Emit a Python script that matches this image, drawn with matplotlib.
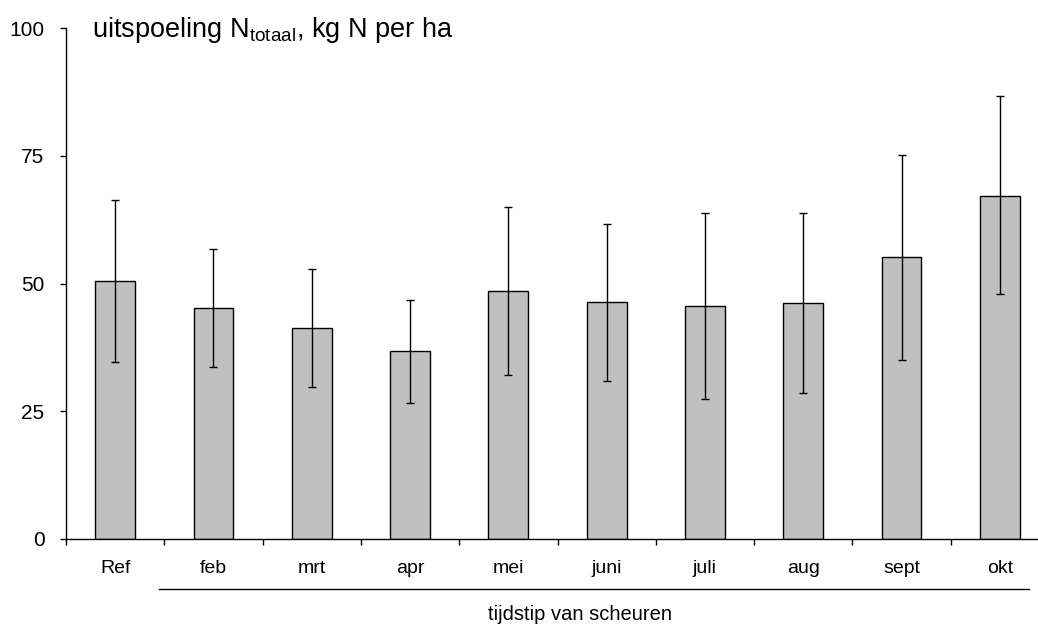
import numpy as np
import matplotlib.pyplot as plt

plt.rcParams['font.family'] = ['Liberation Sans', 'DejaVu Sans']
plt.rcParams['mathtext.fontset'] = 'custom'
plt.rcParams['mathtext.rm'] = 'Liberation Sans'

months = ['Ref', 'feb', 'mrt', 'apr', 'mei', 'juni', 'juli', 'aug', 'sept', 'okt']
leaching = [50.5, 45.3, 41.2, 36.7, 48.5, 46.3, 45.5, 46.2, 55.1, 67.2]
err_low = [34.6, 33.7, 29.7, 26.6, 32.0, 31.0, 27.4, 28.6, 35.0, 47.9]
err_high = [66.3, 56.8, 52.8, 46.8, 65.0, 61.6, 63.7, 63.8, 75.1, 86.6]

x = np.arange(len(months))
yerr = [np.array(leaching) - np.array(err_low), np.array(err_high) - np.array(leaching)]

fig = plt.figure(figsize=[10.38, 6.24], dpi=100)
# axes runs a bit past the right edge, like the original
ax = fig.add_axes([66 / 1038, (624 - 539) / 624, 983 / 1038, 511 / 624])

ax.bar(x, leaching, width=0.405, color='#c0c0c0', edgecolor='black', linewidth=1, zorder=2)
ax.errorbar(x, leaching, yerr=yerr, fmt='none', ecolor='black', elinewidth=1,
            capsize=3, capthick=1, zorder=3)

ax.set_xlim(-0.5, len(months) - 0.5)
ax.set_ylim(0, 100)
ax.set_yticks([0, 25, 50, 75, 100])
ax.tick_params(axis='y', direction='out', length=4.5, width=1, pad=11, labelsize=15)

ax.set_xticks(np.arange(-0.5, len(months)), labels=[])
ax.set_xticks(x, labels=months, minor=True)
ax.tick_params(axis='x', which='major', direction='out', length=4.5, width=1)
ax.tick_params(axis='x', which='minor', length=0, pad=15, labelsize=14)

for s in ['top', 'right']:
    ax.spines[s].set_visible(False)
ax.spines['left'].set_linewidth(1)
ax.spines['bottom'].set_linewidth(1)

ax.text(0.0265, 0.982, r'uitspoeling N$_{\mathrm{totaal}}$, kg N per ha',
        transform=ax.transAxes, fontsize=19.5, va='baseline', ha='left')

trans = ax.get_xaxis_transform()
ax.plot([0.45, 9.3], [-0.098, -0.098], color='black', linewidth=1, transform=trans, clip_on=False)
ax.text(4.73, -0.147, 'tijdstip van scheuren', transform=trans, ha='center', va='center', fontsize=14.5)

plt.savefig('out.png', dpi=100)
